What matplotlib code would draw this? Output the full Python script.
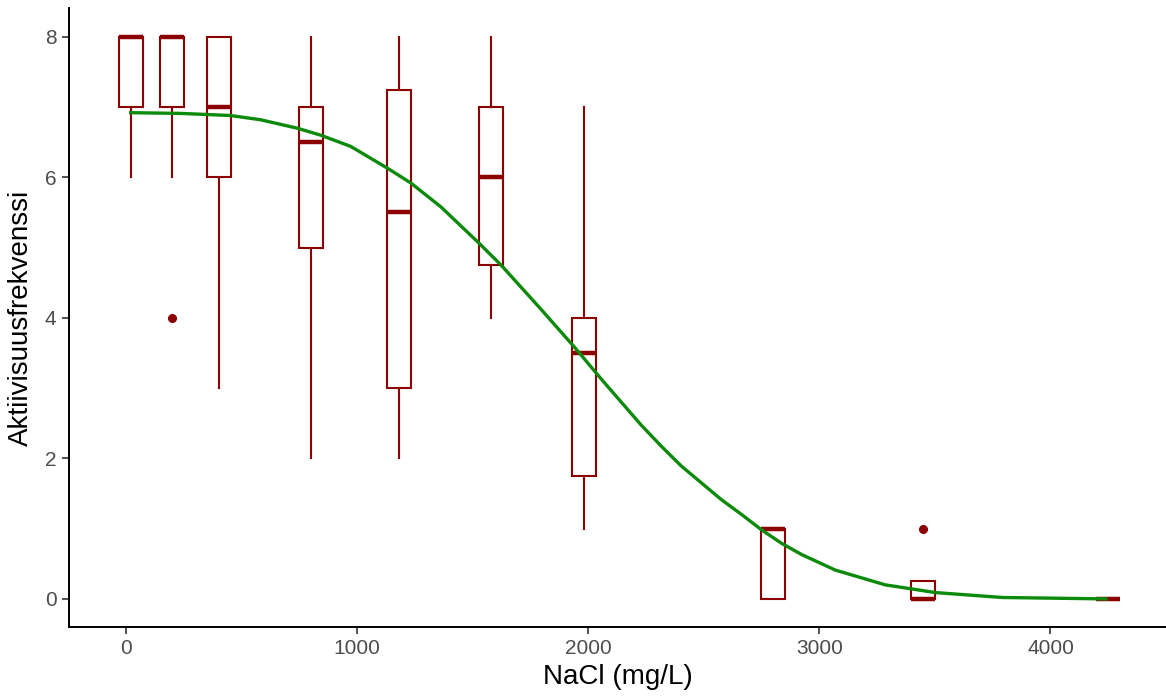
import matplotlib
matplotlib.use("Agg")
import matplotlib.pyplot as plt

# ========= DATOS =========
nacl = [20, 200, 400, 800, 1180, 1580, 1980, 2800, 3450, 4250]
whislo = [6, 6, 3, 2, 2, 4, 1, 0, 0, 0]
q1 = [7, 7, 6, 5, 3, 4.75, 1.75, 0, 0, 0]
med = [8, 8, 7, 6.5, 5.5, 6, 3.5, 1, 0, 0]
q3 = [8, 8, 8, 7, 7.25, 7, 4, 1, 0.25, 0]
whishi = [8, 8, 8, 8, 8, 8, 7, 1, 0.25, 0]
fliers = [[], [4], [], [], [], [], [], [], [1], []]

# curva ajustada
curva_x = [20, 234, 451, 581, 740, 842, 972, 1131, 1232, 1362, 1525, 1623,
           1796, 1941, 2056, 2143, 2230, 2317, 2403, 2490, 2577, 2664, 2751,
           2837, 2924, 3069, 3285, 3502, 3792, 4240]
curva_y = [6.92, 6.91, 6.88, 6.82, 6.70, 6.60, 6.44, 6.13, 5.92, 5.58, 5.07,
           4.75, 4.12, 3.58, 3.13, 2.80, 2.47, 2.17, 1.89, 1.65, 1.41, 1.20,
           0.98, 0.79, 0.63, 0.41, 0.20, 0.09, 0.02, 0.0]

plt.rcParams['font.family'] = ['Liberation Sans', 'DejaVu Sans']
rojo = '#8B0000'
verde = '#0B8A0B'

fig = plt.figure(figsize=(11.66, 7), dpi=100)
ax = fig.add_axes([69 / 1166, 73 / 700, 1 - 69 / 1166, (627 - 8) / 700])

stats = []
for i in range(len(nacl)):
    stats.append({'whislo': whislo[i], 'q1': q1[i], 'med': med[i],
                  'q3': q3[i], 'whishi': whishi[i], 'fliers': fliers[i]})

ax.bxp(stats, positions=nacl, widths=104, showcaps=False, patch_artist=True,
       manage_ticks=False,
       boxprops=dict(facecolor='white', edgecolor=rojo, linewidth=1.5),
       whiskerprops=dict(color=rojo, linewidth=1.5),
       medianprops=dict(color=rojo, linewidth=3.2, solid_capstyle='butt'),
       flierprops=dict(marker='o', markerfacecolor=rojo, markeredgecolor=rojo,
                       markersize=5.5))

ax.plot(curva_x, curva_y, color=verde, linewidth=2.4, zorder=5,
        solid_joinstyle='round')

ax.set_xlim(-247, 4500)
ax.set_ylim(-0.4, 8.41)
ax.set_xticks([0, 1000, 2000, 3000, 4000])
ax.set_yticks([0, 2, 4, 6, 8])
ax.spines['top'].set_visible(False)
ax.spines['right'].set_visible(False)
for s in ['left', 'bottom']:
    ax.spines[s].set_linewidth(1.4)
ax.tick_params(axis='both', labelsize=15, colors='#4D4D4D', length=5,
               width=1.2, pad=4)
ax.tick_params(axis='both', color='#333333')
ax.set_xlabel('NaCl (mg/L)', fontsize=20, labelpad=4)
ax.set_ylabel('Aktiivisuusfrekvenssi', fontsize=20, labelpad=8)

fig.savefig('out.png', dpi=100)
